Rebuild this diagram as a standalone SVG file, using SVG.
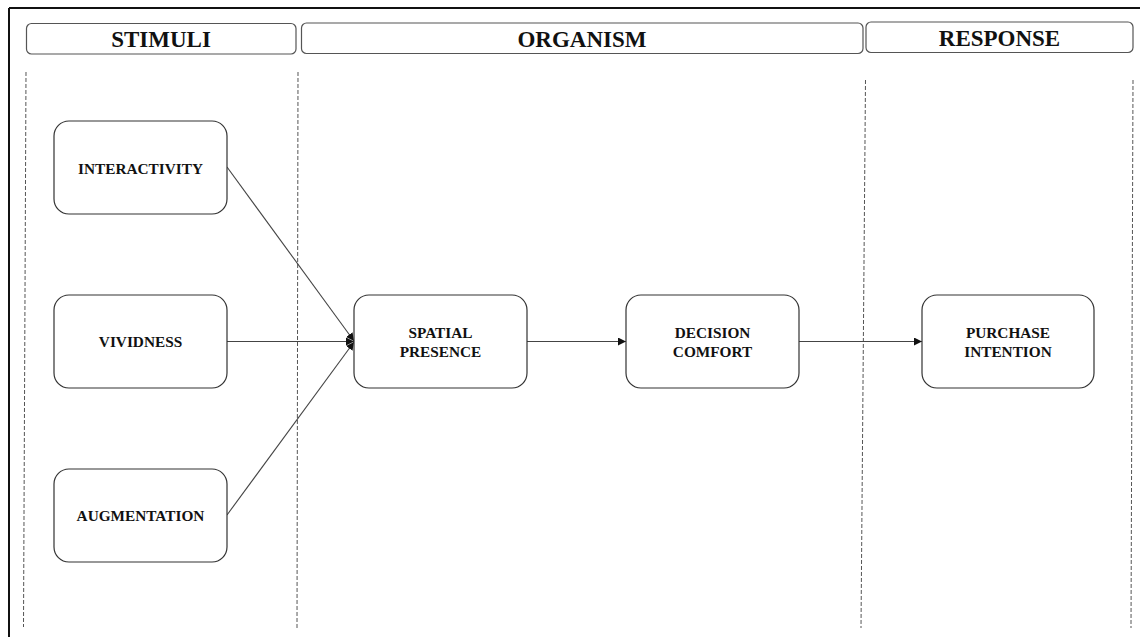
<svg xmlns="http://www.w3.org/2000/svg" width="1140" height="637" viewBox="0 0 1140 637">
<style>
.hdr{fill:#fff;stroke:#555;stroke-width:1.2}
.node{fill:#fff;stroke:#333;stroke-width:1.2}
.ht{font-family:"Liberation Serif","Times New Roman",serif;font-weight:bold;font-size:23px;fill:#111;text-anchor:middle}
.nt{font-family:"Liberation Serif","Times New Roman",serif;font-weight:bold;font-size:15.3px;fill:#111;text-anchor:middle}
.dash{stroke:#555;stroke-width:1;stroke-dasharray:4 2;fill:none}
.edge{stroke:#444;stroke-width:1.1;fill:none;marker-end:url(#arr)}
</style>
<defs>
<marker id="arr" viewBox="0 0 10 10" refX="10" refY="5" markerWidth="8" markerHeight="8" markerUnits="userSpaceOnUse" orient="auto">
<path d="M0,0 L10,5 L0,10 z" fill="#111"/>
</marker>
</defs>
<rect width="1140" height="637" fill="#fff"/>
<g id="frame">
<line x1="9" y1="8" x2="1140" y2="8" stroke="#111" stroke-width="2"/>
<line x1="9" y1="8" x2="9" y2="637" stroke="#111" stroke-width="2"/>
</g>
<g id="lanes">
<line class="dash" x1="26" y1="72" x2="23.5" y2="627"/>
<line class="dash" x1="298" y1="72" x2="297" y2="628"/>
<line class="dash" x1="865.5" y1="80" x2="861" y2="628"/>
<line class="dash" x1="1133" y1="80" x2="1131" y2="628"/>
</g>
<g id="header-stimuli">
<rect class="hdr" x="26.5" y="23.5" width="269.5" height="30.5" rx="5"/>
<text class="ht" x="161" y="47">STIMULI</text>
</g>
<g id="header-organism">
<rect class="hdr" x="301.5" y="23" width="561.5" height="30.5" rx="5"/>
<text class="ht" x="582" y="46.5">ORGANISM</text>
</g>
<g id="header-response">
<rect class="hdr" x="866" y="22" width="267" height="30.5" rx="5"/>
<text class="ht" x="999.5" y="46">RESPONSE</text>
</g>
<g id="connectors">
<line class="edge" x1="227" y1="167" x2="354" y2="341"/>
<line class="edge" x1="227" y1="341.5" x2="354" y2="341.5"/>
<line class="edge" x1="227" y1="515" x2="354" y2="342"/>
<line class="edge" x1="527" y1="341.5" x2="626" y2="341.5"/>
<line class="edge" x1="799" y1="341.5" x2="922" y2="341.5"/>
</g>
<g id="interactivity">
<rect class="node" x="54" y="121" width="173" height="93" rx="15"/>
<text class="nt" x="140.5" y="173.5">INTERACTIVITY</text>
</g>
<g id="vividness">
<rect class="node" x="54" y="295" width="173" height="93" rx="15"/>
<text class="nt" x="140.5" y="347">VIVIDNESS</text>
</g>
<g id="augmentation">
<rect class="node" x="54" y="469" width="173" height="93" rx="15"/>
<text class="nt" x="140.5" y="521">AUGMENTATION</text>
</g>
<g id="spatial-presence">
<rect class="node" x="354" y="295" width="173" height="93" rx="15"/>
<text class="nt" x="440.5" y="338">SPATIAL</text>
<text class="nt" x="440.5" y="357">PRESENCE</text>
</g>
<g id="decision-comfort">
<rect class="node" x="626" y="295" width="173" height="93" rx="15"/>
<text class="nt" x="712.5" y="338">DECISION</text>
<text class="nt" x="712.5" y="357">COMFORT</text>
</g>
<g id="purchase-intention">
<rect class="node" x="922" y="295" width="172" height="93" rx="15"/>
<text class="nt" x="1008" y="338">PURCHASE</text>
<text class="nt" x="1008" y="357">INTENTION</text>
</g>
</svg>
